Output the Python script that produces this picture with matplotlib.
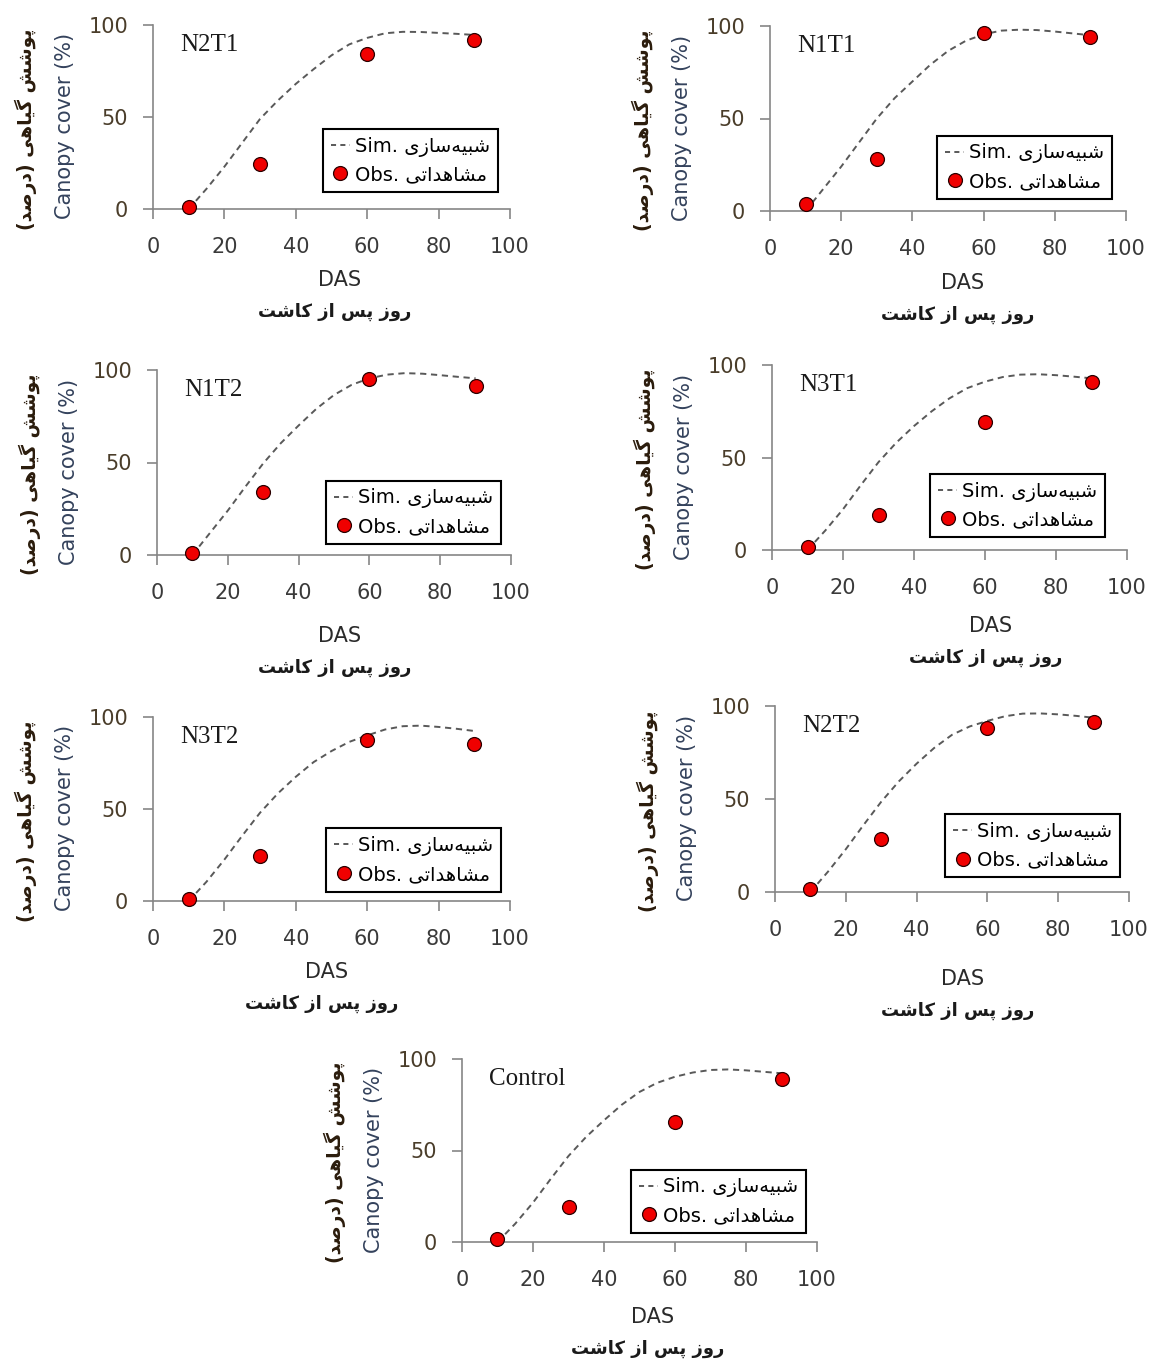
import matplotlib.pyplot as plt
from matplotlib.lines import Line2D

# data
panels = ['N2T1', 'N1T1', 'N1T2', 'N3T1', 'N3T2', 'N2T2', 'Control']
days_obs = [10, 30, 60, 90]
days_sim = [10, 15, 20, 25, 30, 35, 40, 45, 50, 55, 60, 65, 70, 75, 80, 85, 90]

obs_N2T1 = [1.3, 24.4, 84.3, 91.9]
obs_N1T1 = [3.6, 28.3, 96.0, 94.2]
obs_N1T2 = [0.9, 33.9, 95.0, 91.5]
obs_N3T1 = [1.4, 18.9, 69.0, 90.6]
obs_N3T2 = [1.3, 24.3, 87.3, 85.1]
obs_N2T2 = [1.6, 28.6, 88.2, 91.4]
obs_Control = [1.6, 19.2, 65.7, 88.9]

sim_N2T1 = [0, 11, 23, 36, 49, 59, 68, 76, 83.5, 89.5, 93, 95.5, 96.3, 96.2, 95.7, 95.2, 94.6]
sim_N1T1 = [0, 12, 24, 37, 50, 61, 70, 79, 86.5, 92, 95.5, 97.5, 98, 97.8, 97, 96, 95]
sim_N1T2 = [0, 12, 24, 37, 49.5, 60.5, 70, 79, 86.5, 92, 95.5, 97.5, 98.3, 98, 97.2, 96.3, 95.5]
sim_N3T1 = [0, 10.5, 22, 35, 47.5, 58, 67, 75, 82, 87.5, 91, 93.5, 94.8, 95, 94.5, 93.7, 92.8]
sim_N3T2 = [0, 10.5, 22.5, 35.5, 48, 58.5, 67.5, 75.5, 81.5, 86.5, 90, 93.2, 95, 95.3, 94.6, 93.6, 92.4]
sim_N2T2 = [0, 11, 23, 36, 48.5, 59.5, 69, 77.5, 84.5, 89, 92, 94.5, 95.9, 96, 95.5, 94.7, 93.7]
sim_Control = [0, 10, 21.5, 34.5, 47, 57.5, 66.5, 75, 82, 87, 90.3, 92.6, 94, 94.3, 93.8, 93, 92.2]

obs_all = [obs_N2T1, obs_N1T1, obs_N1T2, obs_N3T1, obs_N3T2, obs_N2T2, obs_Control]
sim_all = [sim_N2T1, sim_N1T1, sim_N1T2, sim_N3T1, sim_N3T2, sim_N2T2, sim_Control]

# persian text, written as shaped glyphs in visual order (matplotlib has no arabic shaping)
fa_ylab = '(\ufeaa\ufebb\ufead\ufea9) \ufbfd\ufeeb\ufe8e\ufbff\ufb94 \ufeb6\ufeb7\ufeee\ufb58'   # پوشش گیاهی (درصد)
fa_xlab = '\ufe96\ufeb7\ufe8e\ufb90 \ufeaf\ufe8d \ufeb2\ufb58 \ufeaf\ufeed\ufead'               # روز پس از کاشت
fa_sim = '\ufbfc\ufeaf\ufe8e\ufeb3\ufeea\ufbff\ufe92\ufeb7'                                     # شبیه‌سازی
fa_obs = '\ufbfd\ufe97\ufe8d\ufeaa\ufeeb\ufe8e\ufeb8\ufee3'                                     # مشاهداتی

W, H = 1151, 1365
# axes box in pixels: left, top, right, bottom
boxes = [(153, 25, 510, 209), (770, 26, 1126, 211),
         (157, 370, 511, 555), (772, 365, 1127, 550),
         (153, 717, 510, 901), (775, 706, 1129, 892),
         (462, 1059, 817, 1242)]
leg_pos = [(0.966, 0.092), (0.961, 0.065), (0.972, 0.06), (0.938, 0.07),
           (0.975, 0.05), (0.975, 0.08), (0.969, 0.05)]
das_pos = [(340, 280), (963, 283), (340, 636), (991, 626),
           (327, 972), (963, 979), (653, 1317)]

fig = plt.figure(figsize=(W / 100, H / 100), dpi=100)
plt.rcParams['font.family'] = 'DejaVu Sans'

for i in range(len(panels)):
    l, t, r, b = boxes[i]
    ax = fig.add_axes([l / W, 1 - b / H, (r - l) / W, (b - t) / H])
    ax.plot(days_sim, sim_all[i], color='#595959', lw=1.4, linestyle=(0, (3.2, 2.4)),
            clip_on=False, zorder=2)
    ax.plot(days_obs, obs_all[i], 'o', color='#f00000', markeredgecolor='#2a0000',
            markeredgewidth=0.9, markersize=10, clip_on=False, zorder=3)
    ax.set_xlim(0, 100)
    ax.set_ylim(0, 100)
    ax.set_xticks([0, 20, 40, 60, 80, 100])
    ax.set_yticks([0, 50, 100])
    for s in ['top', 'right']:
        ax.spines[s].set_visible(False)
    for s in ['left', 'bottom']:
        ax.spines[s].set_color('#868686')
        ax.spines[s].set_linewidth(1.2)
    ax.tick_params(axis='both', direction='out', length=7, width=1.2, color='#868686', labelsize=15)
    ax.tick_params(axis='x', pad=13, labelcolor='#3a3a3a')
    ax.tick_params(axis='y', pad=11, labelcolor='#4a3d2a')
    ax.patch.set_alpha(0)

    ax.text(0.076, 0.89, panels[i], transform=ax.transAxes, ha='left', va='center',
            fontsize=18, family='Liberation Serif', color='#1a1a1a')

    wpx = r - l
    hpx = b - t
    ax.text(-88 / wpx, 0.5 - 9 / hpx, 'Canopy cover (%)', transform=ax.transAxes, rotation=90,
            ha='center', va='center', fontsize=15, color='#34425c')
    ax.text(-127 / wpx, 0.5 - 12 / hpx, fa_ylab, transform=ax.transAxes, rotation=90,
            ha='center', va='center', fontsize=13.5, fontweight='bold', color='#2b1c0c')

    dx, dy = das_pos[i]
    fig.text(dx / W, 1 - dy / H, 'DAS', ha='center', va='center', fontsize=15, color='#2a2a2a')
    fig.text((dx - 5) / W, 1 - (dy + 32) / H, fa_xlab, ha='center', va='center',
             fontsize=13, fontweight='bold', color='#1a1a1a')

    handles = [Line2D([], [], color='#595959', lw=1.4, linestyle=(0, (2.6, 2.2))),
               Line2D([], [], marker='o', linestyle='none', color='#f00000',
                      markeredgecolor='#2a0000', markeredgewidth=0.9, markersize=10)]
    leg = ax.legend(handles, ['Sim. ' + fa_sim, 'Obs. ' + fa_obs], loc='lower right',
                    bbox_to_anchor=leg_pos[i], borderaxespad=0, fontsize=14,
                    handlelength=1.0, handletextpad=0.25, borderpad=0.4, labelspacing=0.45,
                    fancybox=False, framealpha=1)
    leg.get_frame().set_edgecolor('black')
    leg.get_frame().set_linewidth(1.5)

fig.savefig('out.png', dpi=100)
